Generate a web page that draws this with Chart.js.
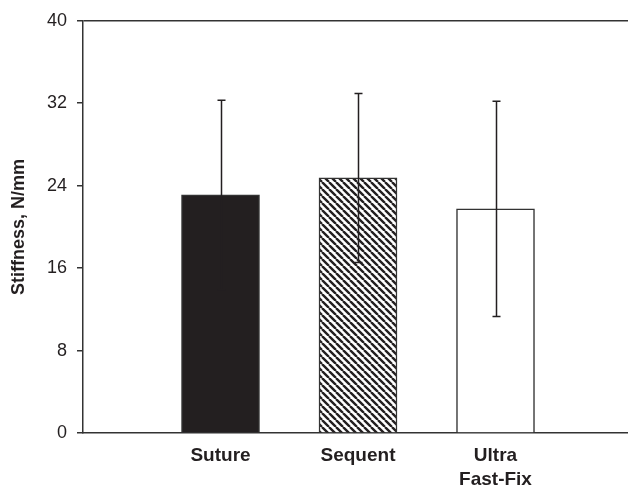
<!DOCTYPE html>
<html>
<head>
<meta charset="utf-8">
<script src="https://cdn.jsdelivr.net/npm/chart.js@4/dist/chart.umd.min.js"></script>
<style>
  html, body { margin: 0; padding: 0; background: #fff; overflow: hidden; }
  /* a área do gráfico continua além da borda direita, como no original */
  #wrap { width: 633px; height: 486px; }
</style>
</head>
<body>
<div id="wrap"><canvas id="chartStiffness"></canvas></div>
<script>
// Dados
const categorias = ['Suture', 'Sequent', ['Ultra', 'Fast-Fix']];
const medias = [23.1, 24.75, 21.75];
const desvios = [9.2, 8.2, 10.45];
const yTicks = [0, 8, 16, 24, 32, 40];

// Padrão hachurado para a barra Sequent
function criarHachura() {
    const t = 7;
    const c = document.createElement('canvas');
    c.width = t; c.height = t;
    const g = c.getContext('2d');
    g.fillStyle = '#fff';
    g.fillRect(0, 0, t, t);
    g.strokeStyle = '#231f20';
    g.lineWidth = 2.4;
    g.beginPath();
    for (const k of [-t, 0, t]) {
        g.moveTo(k, 0);
        g.lineTo(k + t, t);
    }
    g.stroke();
    return document.createElement('canvas').getContext('2d').createPattern(c, 'repeat');
}

// Um slot vazio em cada ponta, para centralizar as barras como no original
const labels = [''].concat(categorias, ['']);
const dados = [null].concat(medias, [null]);

// Plugin das barras de erro (média ± DP)
const barrasDeErro = {
    id: 'barrasDeErro',
    afterDatasetsDraw(chart) {
        const meta = chart.getDatasetMeta(0);
        const y = chart.scales.y;
        const ctx = chart.ctx;
        ctx.save();
        ctx.strokeStyle = '#231f20';
        ctx.lineWidth = 1.5;
        medias.forEach((m, i) => {
            const el = meta.data[i + 1];
            const x = Math.round(el.x) + 0.5;
            const yTop = y.getPixelForValue(m + desvios[i]);
            const yBot = y.getPixelForValue(m - desvios[i]);
            ctx.beginPath();
            ctx.moveTo(x, yTop); ctx.lineTo(x, yBot);
            ctx.moveTo(x - 4, yTop); ctx.lineTo(x + 4, yTop);
            ctx.moveTo(x - 4, yBot); ctx.lineTo(x + 4, yBot);
            ctx.stroke();
        });
        ctx.restore();
    }
};

const ctxStiff = document.getElementById('chartStiffness').getContext('2d');
const chartStiffness = new Chart(ctxStiff, {
    type: 'bar',
    data: {
        labels: labels,
        datasets: [{
            data: dados,
            backgroundColor: ['#fff', '#231f20', criarHachura(), '#fff', '#fff'],
            borderColor: '#333',
            borderWidth: 1.5,
            barThickness: 78
        }]
    },
    options: {
        responsive: true,
        maintainAspectRatio: false,
        animation: false,
        layout: { padding: { top: 17, right: 0, left: 0, bottom: 0 } },
        plugins: {
            legend: { display: false },
            tooltip: { enabled: false }
        },
        scales: {
            x: {
                type: 'category',
                offset: false,
                grid: { display: false, drawTicks: false },
                border: { display: true, color: '#333', width: 1.5 },
                ticks: {
                    color: '#231f20',
                    font: { family: 'Liberation Sans, Arial, sans-serif', size: 19, weight: 'bold', lineHeight: 1.25 },
                    padding: 11,
                    maxRotation: 0,
                    autoSkip: false
                },
                afterFit(scale) {
                    scale.height = 53;
                    scale.paddingLeft = 0;
                    scale.paddingRight = 0;
                }
            },
            y: {
                min: 0,
                max: 40,
                afterBuildTicks(scale) { scale.ticks = yTicks.map(v => ({ value: v })); },
                grid: {
                    color: c => (c.tick && c.tick.value === 40 ? '#333' : 'rgba(0,0,0,0)'),
                    lineWidth: 1.5,
                    drawTicks: true,
                    tickColor: '#333',
                    tickLength: 6
                },
                border: { display: true, color: '#333', width: 1.5 },
                ticks: {
                    color: '#231f20',
                    font: { family: 'Liberation Sans, Arial, sans-serif', size: 18 },
                    padding: 10
                },
                title: {
                    display: true,
                    text: 'Stiffness, N/mm',
                    color: '#231f20',
                    font: { family: 'Liberation Sans, Arial, sans-serif', size: 18, weight: 'bold' },
                    padding: { top: 8, bottom: 0 }
                },
                afterFit(scale) { scale.width = 83; }
            }
        }
    },
    plugins: [barrasDeErro]
});
</script>
</body>
</html>
